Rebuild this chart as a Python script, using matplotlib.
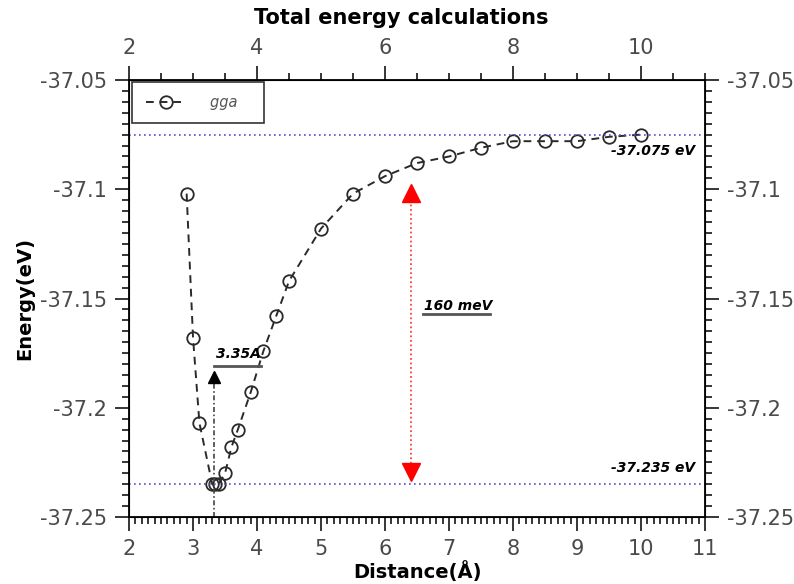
import matplotlib
matplotlib.use("Agg")
import matplotlib.pyplot as plt
from matplotlib.ticker import MultipleLocator
import numpy as np

# gga total energy vs interatomic distance
distance = [2.9, 3.0, 3.1, 3.3, 3.35, 3.4, 3.5, 3.6, 3.7, 3.9, 4.1, 4.3, 4.5,
            5.0, 5.5, 6.0, 6.5, 7.0, 7.5, 8.0, 8.5, 9.0, 9.5, 10.0]
energy = [-37.102, -37.168, -37.207, -37.235, -37.235, -37.235, -37.230,
          -37.218, -37.210, -37.193, -37.174, -37.158, -37.142, -37.118,
          -37.102, -37.094, -37.088, -37.085, -37.081, -37.078, -37.078,
          -37.078, -37.076, -37.075]

e_far = -37.075
e_min = -37.235
r_min = 3.33
gap_x = 6.4

tick_col = '#4a4a4a'

fig = plt.figure(figsize=(7.94, 5.84), dpi=100)
ax = fig.add_axes([0.1625, 0.1147, 0.7255, 0.7483])

ax.plot(distance, energy, linestyle=(0, (4, 3)), color='#2a2a2a', lw=1.4,
        marker='o', markersize=9, markerfacecolor='none',
        markeredgecolor='#2a2a2a', markeredgewidth=1.3, label='gga')

# reference levels
ax.axhline(e_far, color='#5050d0', linestyle=(0, (1, 2)), lw=1.2)
ax.axhline(e_min, color='#5050d0', linestyle=(0, (1, 2)), lw=1.2)

# energy gap arrow
ax.plot([gap_x, gap_x], [-37.101, -37.230], color='#ff4040', linestyle=(0, (1, 1.5)), lw=1.3)
ax.plot([gap_x], [-37.1015], marker='^', color='red', markersize=13, linestyle='none')
ax.plot([gap_x], [-37.2295], marker='v', color='red', markersize=13, linestyle='none')

# equilibrium distance arrow
ax.plot([r_min, r_min], [-37.25, -37.187], color='#444444', linestyle=(0, (3, 1.5, 1, 1.5)), lw=1.2)
ax.plot([r_min], [-37.186], marker='^', color='black', markersize=8, linestyle='none')

lab = dict(fontsize=10, fontweight='bold', style='italic', color='black')
ax.text(3.36, -37.1755, '3.35A', ha='left', va='center', **lab)
ax.plot([3.33, 4.06], [-37.181, -37.181], color='#555555', lw=2)
ax.text(6.61, -37.1535, '160 meV', ha='left', va='center', **lab)
ax.plot([6.6, 7.64], [-37.157, -37.157], color='#555555', lw=2)
ax.text(10.84, -37.0825, '-37.075 eV', ha='right', va='center', **lab)
ax.text(10.84, -37.2275, '-37.235 eV', ha='right', va='center', **lab)

ax.set_xlim(2, 11)
ax.set_ylim(-37.25, -37.05)
ax.xaxis.set_major_locator(MultipleLocator(1))
ax.xaxis.set_minor_locator(MultipleLocator(0.1))
ax.yaxis.set_minor_locator(MultipleLocator(0.005))
ax.set_yticks([-37.25, -37.2, -37.15, -37.1, -37.05])
ax.set_yticklabels(['-37.25', '-37.2', '-37.15', '-37.1', '-37.05'])
ax.tick_params(which='both', direction='out', right=True, labelright=True,
               labelsize=15, labelcolor=tick_col, width=1.1, pad=6)
ax.tick_params(which='major', length=10)
ax.tick_params(which='minor', length=5)
for s in ax.spines.values():
    s.set_linewidth(1.3)

ax.set_xlabel('Distance(Å)', fontsize=14, fontweight='bold', labelpad=1)
ax.set_ylabel('Energy(eV)', fontsize=14, fontweight='bold', labelpad=4)

top = ax.twiny()
top.set_xlim(2, 11)
top.set_xticks([2, 4, 6, 8, 10])
top.xaxis.set_minor_locator(MultipleLocator(0.5))
top.tick_params(which='both', direction='out', labelsize=15, labelcolor=tick_col, width=1.1, pad=6)
top.tick_params(which='major', length=10)
top.tick_params(which='minor', length=5)
top.set_title('Total energy calculations', fontsize=15, fontweight='bold', x=0.472, pad=10)

leg = ax.legend(loc='upper left', bbox_to_anchor=(0.006, 0.995), frameon=True, fancybox=False,
                edgecolor='black', fontsize=10.5, handlelength=2.8, borderpad=0.9,
                borderaxespad=0.0, handletextpad=1.6)
leg.get_frame().set_linewidth(1.2)
for t in leg.get_texts():
    t.set_style('italic')
    t.set_color('#555555')
    t.set_text('gga' + ' ' * 3)

fig.savefig('out.png', dpi=100)
